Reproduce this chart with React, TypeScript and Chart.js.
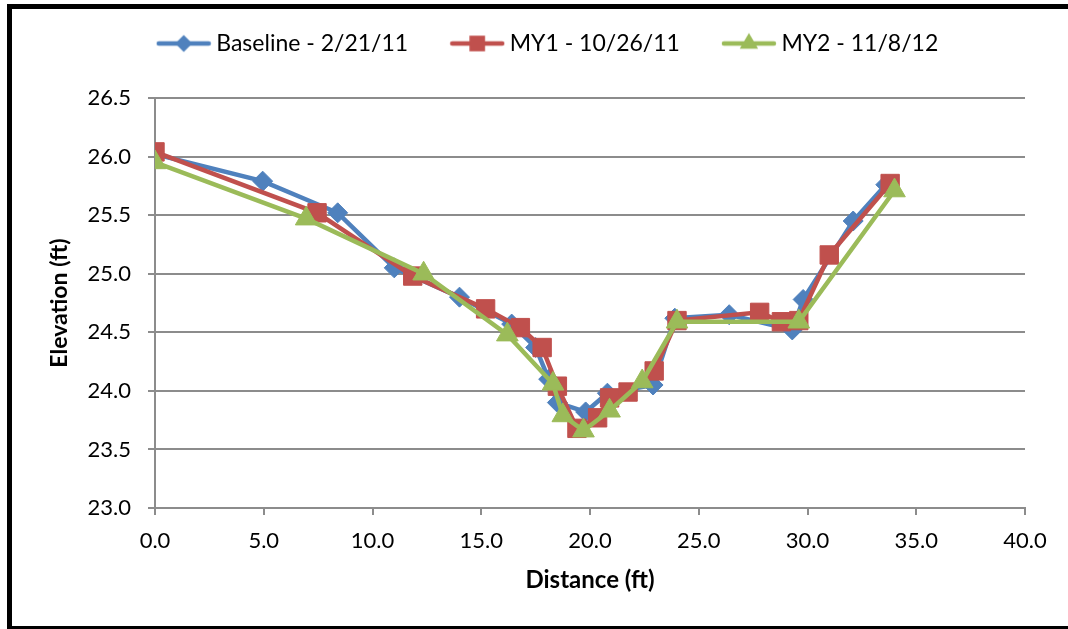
import { useEffect, useRef } from "react";
import { Chart, registerables } from "chart.js";

Chart.register(...registerables);

// ---- data ----
const seriesLabels = ["Baseline - 2/21/11", "MY1 - 10/26/11", "MY2 - 11/8/12"];

const baselineDistance = [0, 4.95, 8.4, 11.0, 14.0, 16.4, 17.5, 18.1, 18.5, 19.8, 20.8, 22.9, 23.9, 26.4, 29.3, 29.8, 32.1, 33.6];
const baselineElevation = [26.02, 25.79, 25.52, 25.05, 24.8, 24.57, 24.37, 24.1, 23.9, 23.82, 23.98, 24.05, 24.62, 24.65, 24.52, 24.78, 25.45, 25.76];

const my1Distance = [0, 7.45, 11.85, 15.2, 16.8, 17.8, 18.5, 19.4, 20.35, 20.9, 21.75, 22.95, 24.0, 27.8, 28.8, 29.6, 31.0, 33.8];
const my1Elevation = [26.04, 25.52, 24.98, 24.7, 24.54, 24.37, 24.04, 23.68, 23.77, 23.94, 23.99, 24.17, 24.6, 24.67, 24.59, 24.6, 25.16, 25.77];

const my2Distance = [0, 6.95, 12.35, 16.2, 18.3, 18.75, 19.7, 20.9, 22.4, 24.0, 29.6, 34.0];
const my2Elevation = [25.95, 25.47, 25.0, 24.48, 24.06, 23.79, 23.66, 23.83, 24.08, 24.59, 24.59, 25.71];

const xMin = 0, xMax = 40, xStep = 5;
const yMin = 23, yMax = 26.5, yStep = 0.5;

const colors = ["#4F81BD", "#C0504D", "#9BBB59"];
const markerStyles = ["rectRot", "rect", "triangle"];
const markerRadius = [10, 13, 12.5];

const FONT = "Lato, 'Open Sans', sans-serif";

function toPoints(xs: number[], ys: number[]) {
  return xs.map((x, i) => ({ x, y: ys[i] }));
}

function makeLegendImage(color: string, style: string, radius: number) {
  const c = document.createElement("canvas");
  c.width = 56;
  c.height = 24;
  const ctx = c.getContext("2d")!;
  ctx.strokeStyle = color;
  ctx.lineWidth = 4.5;
  ctx.lineCap = "round";
  ctx.beginPath();
  ctx.moveTo(3, 12);
  ctx.lineTo(53, 12);
  ctx.stroke();
  ctx.fillStyle = color;
  ctx.beginPath();
  const r = radius * 0.85;
  if (style === "rectRot") {
    ctx.moveTo(28 - r, 12);
    ctx.lineTo(28, 12 - r);
    ctx.lineTo(28 + r, 12);
    ctx.lineTo(28, 12 + r);
  } else if (style === "rect") {
    const s = r * Math.SQRT1_2;
    ctx.rect(28 - s, 12 - s, 2 * s, 2 * s);
  } else {
    ctx.moveTo(28, 12 - r);
    ctx.lineTo(28 + r * 0.866, 12 + r * 0.5);
    ctx.lineTo(28 - r * 0.866, 12 + r * 0.5);
  }
  ctx.closePath();
  ctx.fill();
  return c;
}

export default function App() {
  const canvasRef = useRef<HTMLCanvasElement | null>(null);

  useEffect(() => {
    if (!canvasRef.current) return;
    const legendImages = colors.map((c, i) => makeLegendImage(c, markerStyles[i], markerRadius[i]));

    const datasetsData = [
      toPoints(baselineDistance, baselineElevation),
      toPoints(my1Distance, my1Elevation),
      toPoints(my2Distance, my2Elevation),
    ];

    const layoutPlugin = {
      id: "layoutTweaks",
      beforeUpdate(chart: any) {
        const lg = chart.legend;
        if (lg && !lg.__patched) {
          const orig = lg.fit.bind(lg);
          lg.fit = function () {
            orig();
            this.height = 114;
          };
          lg.__patched = true;
        }
      },
      afterLayout(chart: any) {
        const lg = chart.legend;
        if (lg) {
          lg.left += 32;
          lg.right += 32;
        }
      },
    };

    const chart = new Chart(canvasRef.current, {
      type: "line",
      data: {
        datasets: datasetsData.map((d, i) => ({
          label: seriesLabels[i],
          data: d,
          borderColor: colors[i],
          backgroundColor: colors[i],
          borderWidth: 4.5,
          pointStyle: markerStyles[i] as any,
          pointRadius: markerRadius[i],
          pointBackgroundColor: colors[i],
          pointBorderColor: colors[i],
          pointBorderWidth: 1,
          tension: 0,
          fill: false,
          order: 3 - i,
        })),
      },
      options: {
        animation: false,
        responsive: false,
        layout: { padding: { left: 12, right: 43, top: -16, bottom: 0 } },
        plugins: {
          tooltip: { enabled: false },
          legend: {
            display: true,
            position: "top",
            labels: {
              usePointStyle: true,
              pointStyleWidth: 42,
              padding: 48,
              color: "#000",
              font: { family: FONT, size: 23 },
              generateLabels: () =>
                seriesLabels.map((t, i) => ({
                  text: t,
                  datasetIndex: i,
                  pointStyle: legendImages[i] as any,
                  fillStyle: colors[i],
                  strokeStyle: colors[i],
                  lineWidth: 0,
                  hidden: false,
                  fontColor: "#000",
                })),
            },
          },
        },
        scales: {
          x: {
            type: "linear",
            min: xMin,
            max: xMax,
            afterFit(scale: any) {
              scale.height = 121;
            },
            ticks: {
              stepSize: xStep,
              color: "#000",
              padding: 13,
              font: { family: FONT, size: 22 },
              callback: (v: any) => Number(v).toFixed(1),
            },
            grid: {
              display: true,
              drawOnChartArea: false,
              drawTicks: true,
              tickLength: 7,
              color: "#8c8c8c",
              lineWidth: 2,
            },
            border: { display: true, color: "#8c8c8c", width: 2 },
            title: {
              display: true,
              text: "Distance (ft)",
              color: "#000",
              font: { family: FONT, size: 24, weight: "bold" },
              padding: { top: 0, bottom: 34 },
            },
          },
          y: {
            type: "linear",
            min: yMin,
            max: yMax,
            afterFit(scale: any) {
              scale.width = 143;
            },
            ticks: {
              stepSize: yStep,
              color: "#000",
              padding: 17,
              font: { family: FONT, size: 22 },
              callback: (v: any) => Number(v).toFixed(1),
            },
            grid: {
              display: true,
              drawOnChartArea: true,
              drawTicks: true,
              tickLength: 7,
              color: "#8c8c8c",
              lineWidth: 2,
            },
            border: { display: true, color: "#8c8c8c", width: 2 },
            title: {
              display: true,
              text: "Elevation (ft)",
              color: "#000",
              font: { family: FONT, size: 23, weight: "bold" },
              padding: { top: 34, bottom: 0 },
            },
          },
        },
      },
      plugins: [layoutPlugin],
    });

    return () => {
      chart.destroy();
    };
  }, []);

  return (
    <div style={{ position: "absolute", left: 0, top: 0, width: 1068, height: 629, background: "#fff", overflow: "hidden" }}>
      <canvas ref={canvasRef} width={1068} height={629} style={{ display: "block", width: 1068, height: 629 }} />
      <div
        style={{
          position: "absolute",
          left: 7,
          top: 4,
          width: 1120,
          height: 627,
          border: "5px solid #000",
          boxSizing: "border-box",
          pointerEvents: "none",
        }}
      />
    </div>
  );
}
